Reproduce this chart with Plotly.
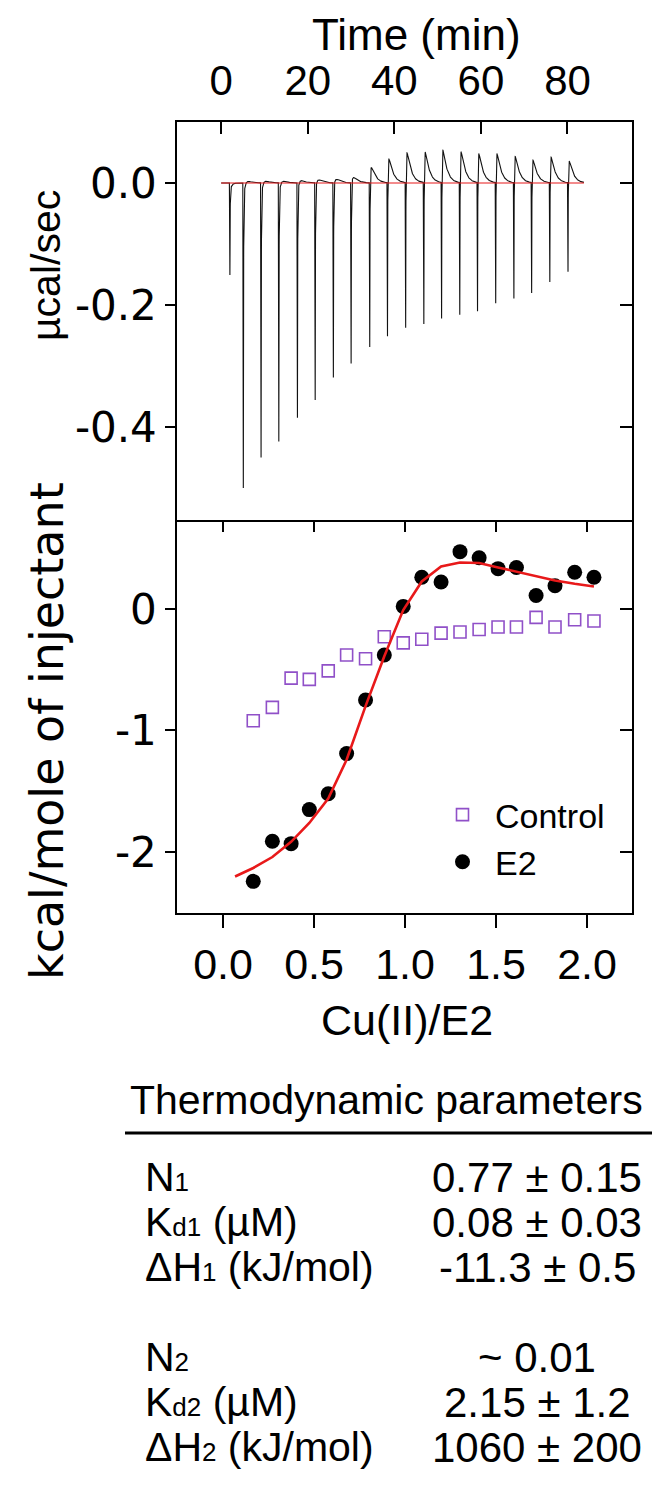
import numpy as np
import plotly.graph_objects as go

W, H = 664, 1502
FONT = "Liberation Sans, Arial, sans-serif"
WIDE = "DejaVu Sans, Verdana, sans-serif"

# ---------------- Top panel: raw ITC thermogram ----------------
inj_time = [1.9, 5.0, 9.1, 13.2, 17.5, 21.6, 25.8, 29.9, 34.2, 38.3,
            42.5, 46.7, 50.8, 55.0, 59.1, 63.3, 67.5, 71.6, 75.8, 80.0]
inj_peak = [-0.151, -0.500, -0.450, -0.424, -0.385, -0.356, -0.319, -0.296, -0.269, -0.252,
            -0.238, -0.232, -0.223, -0.217, -0.211, -0.198, -0.190, -0.181, -0.163, -0.146]
inj_overshoot = [0.0, 0.003, 0.003, 0.003, 0.004, 0.005, 0.006, 0.009, 0.025, 0.039,
                 0.049, 0.050, 0.053, 0.050, 0.047, 0.047, 0.043, 0.037, 0.042, 0.035]
run_window = [0.0, 83.8]
baseline_time = [0.0, 83.8]
baseline_power = [0.0, 0.0]
time_ticks = [0, 20, 40, 60, 80]
power_ticks = [0.0, -0.2, -0.4]
power_ticktext = ["0.0", "-0.2", "-0.4"]

# ---------------- Bottom panel: integrated heats ----------------
ratio = [0.166, 0.271, 0.374, 0.474, 0.578, 0.679, 0.783, 0.886, 0.990, 1.092,
         1.198, 1.302, 1.407, 1.511, 1.612, 1.720, 1.824, 1.932, 2.038]
heat_e2 = [-2.24, -1.91, -1.93, -1.65, -1.52, -1.19, -0.75, -0.38, 0.02, 0.26,
           0.22, 0.47, 0.42, 0.33, 0.34, 0.11, 0.19, 0.30, 0.26]
heat_control = [-0.92, -0.81, -0.57, -0.58, -0.51, -0.38, -0.41, -0.23, -0.28, -0.25,
                -0.20, -0.19, -0.17, -0.15, -0.15, -0.07, -0.15, -0.09, -0.10]
fit_ratio = [0.066] + ratio
fit_heat = [-2.20, -2.13, -2.04, -1.915, -1.76, -1.56, -1.24, -0.80, -0.39, -0.01,
            0.225, 0.348, 0.381, 0.376, 0.34, 0.307, 0.266, 0.233, 0.206, 0.184]
ratio_ticks = [0.0, 0.5, 1.0, 1.5, 2.0]
ratio_ticktext = ["0.0", "0.5", "1.0", "1.5", "2.0"]
heat_ticks = [0, -1, -2]
heat_ticktext = ["0", "-1", "-2"]

# ---------------- Table ----------------
SUB = "<span style='font-size:26px'>{}</span>"
param_labels = ["N" + SUB.format("1"),
                "K" + SUB.format("d1") + " (µM)",
                "ΔH" + SUB.format("1") + " (kJ/mol)",
                "N" + SUB.format("2"),
                "K" + SUB.format("d2") + " (µM)",
                "ΔH" + SUB.format("2") + " (kJ/mol)"]
param_values = ["0.77 ± 0.15", "0.08 ± 0.03", "-11.3 ± 0.5",
                "~ 0.01", "2.15 ± 1.2", "1060 ± 200"]
row_px = [1177, 1222, 1267, 1357, 1402, 1447]

# ---- build thermogram trace from per-injection readings ----
t = np.arange(run_window[0], run_window[1], 0.01)
extra = np.array(inj_time + [ti + 0.12 for ti in inj_time])
t = np.union1d(t, extra)
sig = np.zeros_like(t)
ug = np.linspace(0, 10, 10001)
spike_shape = 0.9 * np.exp(-ug / 0.05) + 0.1 * np.exp(-ug / 0.35)
bump_shape = (1 - np.exp(-ug / 0.1)) * np.exp(-ug / 0.9)
for ti, pk, ov in zip(inj_time, inj_peak, inj_overshoot):
    amp = ov / bump_shape.max() if ov > 0 else 0.0
    for _ in range(8):
        if ov <= 0:
            break
        amp += ov - (pk * spike_shape + amp * bump_shape).max()
    s = t - ti
    down = (s >= 0) & (s < 0.12)
    sig[down] += pk * s[down] / 0.12
    after = s >= 0.12
    u = s[after] - 0.12
    sig[after] += pk * (0.9 * np.exp(-u / 0.05) + 0.1 * np.exp(-u / 0.35))
    sig[after] += amp * (1 - np.exp(-u / 0.1)) * np.exp(-u / 0.9)

# ---- geometry (pixels -> paper) ----
def px(x):
    return x / W

def py(y):
    return 1 - y / H

xdom = [px(177), px(632)]
ydom_top = [py(520), py(122)]
ydom_bot = [py(913), py(520)]

fig = go.Figure()

fig.add_trace(go.Scatter(x=t, y=sig, mode="lines", line=dict(color="#111111", width=1.1),
                         xaxis="x", yaxis="y", showlegend=False, hoverinfo="skip"))
fig.add_trace(go.Scatter(x=baseline_time, y=baseline_power, mode="lines",
                         line=dict(color="#e8191a", width=1.2),
                         xaxis="x", yaxis="y", showlegend=False))

fig.add_trace(go.Scatter(x=ratio, y=heat_control, mode="markers", name="Control",
                         marker=dict(symbol="square-open", size=12, color="#9050c8",
                                     line=dict(width=1.6, color="#9050c8")),
                         xaxis="x2", yaxis="y2"))
fig.add_trace(go.Scatter(x=ratio, y=heat_e2, mode="markers", name="E2",
                         marker=dict(symbol="circle", size=15, color="black"),
                         xaxis="x2", yaxis="y2"))
fig.add_trace(go.Scatter(x=fit_ratio, y=fit_heat, mode="lines",
                         line=dict(color="#e8191a", width=2.6),
                         xaxis="x2", yaxis="y2", showlegend=False))

# invisible traces to activate overlay axes (mirror ticks pointing inward)
fig.add_trace(go.Scatter(x=[ratio[0]], y=[heat_e2[0]], mode="markers", marker=dict(opacity=0),
                         xaxis="x3", yaxis="y2", showlegend=False, hoverinfo="skip"))
fig.add_trace(go.Scatter(x=[inj_time[0]], y=[inj_peak[0]], mode="markers", marker=dict(opacity=0),
                         xaxis="x", yaxis="y3", showlegend=False, hoverinfo="skip"))
fig.add_trace(go.Scatter(x=[ratio[0]], y=[heat_e2[0]], mode="markers", marker=dict(opacity=0),
                         xaxis="x2", yaxis="y4", showlegend=False, hoverinfo="skip"))

axis_common = dict(showline=True, linecolor="black", linewidth=1.5, showgrid=False,
                   zeroline=False, tickcolor="black", tickwidth=1.5)
x_font = dict(family=FONT, size=43, color="black")
y_font = dict(family=WIDE, size=42, color="black")

xr_time = [-10.2, 94.9]
yr_pow = [-0.5525, 0.1]
xr_ratio = [-0.253, 2.247]
yr_heat = [-2.50, 0.73]

fig.update_layout(
    width=W, height=H, margin=dict(l=0, r=0, t=0, b=0, autoexpand=False),
    paper_bgcolor="white", plot_bgcolor="white",
    font=dict(family=FONT, color="black"),
    xaxis=dict(domain=xdom, anchor="y", side="top", range=xr_time, tickmode="array",
               tickvals=time_ticks, ticks="inside", ticklen=12, mirror=True,
               tickfont=dict(family=FONT, size=42, color="black"), ticklabelstandoff=8,
               **axis_common),
    yaxis=dict(domain=ydom_top, anchor="x", range=yr_pow, tickmode="array",
               tickvals=power_ticks, ticktext=power_ticktext, ticks="outside", ticklen=10,
               mirror=True, tickfont=y_font, **axis_common),
    xaxis2=dict(domain=xdom, anchor="y2", range=xr_ratio, tickmode="array",
                tickvals=ratio_ticks, ticktext=ratio_ticktext, ticks="outside", ticklen=13,
                mirror=False, tickfont=x_font, **axis_common),
    yaxis2=dict(domain=ydom_bot, anchor="x2", range=yr_heat, tickmode="array",
                tickvals=heat_ticks, ticktext=heat_ticktext, ticks="outside", ticklen=10,
                mirror=True, tickfont=y_font, **axis_common),
    xaxis3=dict(overlaying="x2", anchor="y2", side="top", range=xr_ratio, tickmode="array",
                tickvals=ratio_ticks, ticks="inside", ticklen=12, showticklabels=False,
                showline=False, showgrid=False, zeroline=False, tickcolor="black", tickwidth=1.5),
    yaxis3=dict(overlaying="y", anchor="x", side="right", range=yr_pow, tickmode="array",
                tickvals=power_ticks, ticks="inside", ticklen=12, showticklabels=False,
                showline=False, showgrid=False, zeroline=False, tickcolor="black", tickwidth=1.5),
    yaxis4=dict(overlaying="y2", anchor="x2", side="right", range=yr_heat, tickmode="array",
                tickvals=heat_ticks, ticks="inside", ticklen=12, showticklabels=False,
                showline=False, showgrid=False, zeroline=False, tickcolor="black", tickwidth=1.5),
    legend=dict(x=px(430), y=py(786), xanchor="left", yanchor="top",
                bgcolor="rgba(0,0,0,0)", font=dict(family=FONT, size=34, color="black"),
                itemwidth=55, tracegroupgap=0),
    showlegend=True,
)

ann = []
ann.append(dict(x=px(416), y=py(35), text="Time (min)", showarrow=False,
                xref="paper", yref="paper", xanchor="center", yanchor="middle",
                font=dict(family=FONT, size=44, color="black")))
ann.append(dict(x=px(46), y=py(266), text="µcal/sec", showarrow=False, textangle=-90,
                xref="paper", yref="paper", xanchor="center", yanchor="middle",
                font=dict(family=FONT, size=41, color="black")))
ann.append(dict(x=px(47), y=py(731), text="kcal/mole of injectant", showarrow=False, textangle=-90,
                xref="paper", yref="paper", xanchor="center", yanchor="middle",
                font=dict(family=WIDE, size=46, color="black")))
ann.append(dict(x=px(407), y=py(1020), text="Cu(II)/E2", showarrow=False,
                xref="paper", yref="paper", xanchor="center", yanchor="middle",
                font=dict(family=FONT, size=43, color="black")))
ann.append(dict(x=px(386), y=py(1100), text="Thermodynamic parameters", showarrow=False,
                xref="paper", yref="paper", xanchor="center", yanchor="middle",
                font=dict(family=FONT, size=41, color="black")))
for lab, val, ry in zip(param_labels, param_values, row_px):
    ann.append(dict(x=px(143), y=py(ry), text=lab, showarrow=False,
                    xref="paper", yref="paper", xanchor="left", yanchor="middle",
                    font=dict(family=FONT, size=41, color="black")))
    ann.append(dict(x=px(537), y=py(ry), text=val, showarrow=False,
                    xref="paper", yref="paper", xanchor="center", yanchor="middle",
                    font=dict(family=FONT, size=42, color="black")))
fig.update_layout(annotations=ann)

fig.add_shape(type="line", xref="paper", yref="paper",
              x0=px(125), x1=px(652), y0=py(1133), y1=py(1133),
              line=dict(color="black", width=3))

fig.write_html("out.html", config={"displayModeBar": False},
               post_script="document.body.style.margin='0';document.body.style.padding='0';")
